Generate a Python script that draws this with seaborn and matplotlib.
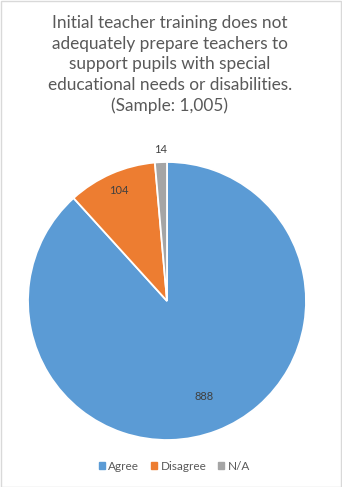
import matplotlib
matplotlib.use("Agg")
import matplotlib.pyplot as plt
import seaborn as sns
import numpy as np
from matplotlib.patches import Rectangle

categories = ["Agree", "Disagree", "N/A"]
values = [888, 104, 14]
colors = ["#5B9BD5", "#ED7D31", "#A5A5A5"]
title = ("Initial teacher training does not\nadequately prepare teachers to\n"
         "support pupils with special\neducational needs or disabilities.\n(Sample: 1,005)")

sns.set_theme(style="white")
plt.rcParams['font.family'] = ['Lato', 'DejaVu Sans']
text_color = "#595959"

fig = plt.figure(figsize=(3.42, 4.87), dpi=100)
fig.patch.set_facecolor("white")
fig.patches.append(Rectangle((0.5/342, 0.5/487), 1 - 1.5/342, 1 - 1.5/487, transform=fig.transFigure,
                             fill=False, edgecolor="#D9D9D9", linewidth=1))

fig.text(0.497, 1 - 15 / 487, title, ha="center", va="top", fontsize=12.4, color=text_color,
         linespacing=1.36)

ax = fig.add_axes([(167 - 139) / 342, (487 - 440) / 487, 278 / 342, 278 / 487])
wedges, _ = ax.pie(values, colors=sns.color_palette(colors), startangle=90, counterclock=False,
                   radius=1, wedgeprops=dict(edgecolor="white", linewidth=1.3))
ax.set_xlim(-1, 1)
ax.set_ylim(-1, 1)
ax.set_aspect("equal")
ax.axis("off")

dists = [0.74, 0.87, 1.09]
for w, v, d in zip(wedges, values, dists):
    ang = np.deg2rad((w.theta1 + w.theta2) / 2)
    ax.text(d * np.cos(ang), d * np.sin(ang), str(v), ha="center", va="center",
            fontsize=8, color="#404040", clip_on=False)

handles = [Rectangle((0, 0), 1, 1, color=c) for c in colors]
fig.legend(handles, categories, loc="center", bbox_to_anchor=(0.51, 1 - 466 / 487), ncol=3,
           frameon=False, fontsize=8.5, labelcolor=text_color, handlelength=0.5, handleheight=0.5,
           handletextpad=0.3, columnspacing=1.0)

fig.savefig("out.png", dpi=100)
